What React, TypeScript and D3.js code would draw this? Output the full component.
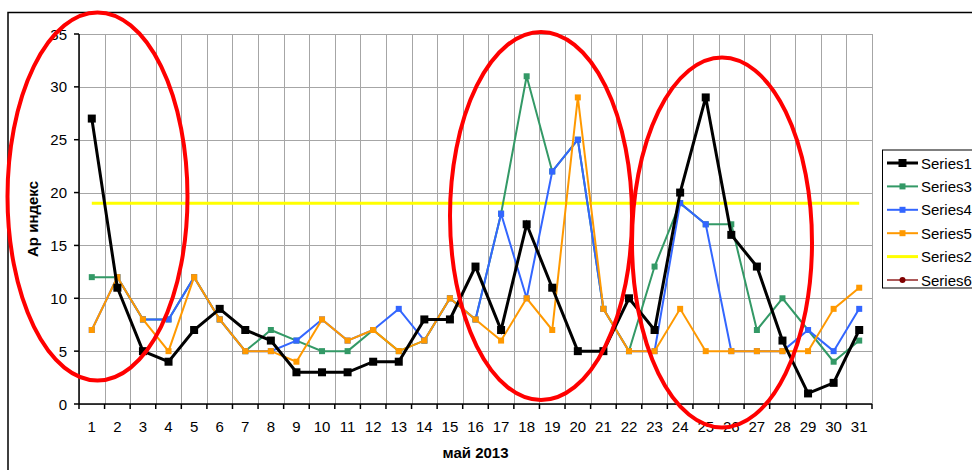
import React from "react";
import * as d3 from "d3";

// Days of May 2013
const days: number[] = d3.range(1, 32);

// Ap index per day
const series1: number[] = [27, 11, 5, 4, 7, 9, 7, 6, 3, 3, 3, 4, 4, 8, 8, 13, 7, 17, 11, 5, 5, 10, 7, 20, 29, 16, 13, 6, 1, 2, 7];
const series3: number[] = [12, 12, 8, 8, 12, 8, 5, 7, 6, 5, 5, 7, 5, 6, 10, 8, 18, 31, 22, 25, 9, 5, 13, 19, 17, 17, 7, 10, 7, 4, 6];
const series4: number[] = [7, 12, 8, 8, 12, 8, 5, 5, 6, 8, 6, 7, 9, 6, 10, 8, 18, 10, 22, 25, 9, 5, 5, 19, 17, 5, 5, 5, 7, 5, 9];
const series5: number[] = [7, 12, 8, 5, 12, 8, 5, 5, 4, 8, 6, 7, 5, 6, 10, 8, 6, 10, 7, 29, 9, 5, 5, 9, 5, 5, 5, 5, 5, 9, 11];
const series2: number[] = days.map(() => 19);
const series6: number[] = [];

const yTicks: number[] = [0, 5, 10, 15, 20, 25, 30, 35];

const xTitle = "май 2013";
const yTitle = "Ар индекс";

type Series = { name: string; values: number[]; color: string; width: number; marker: "square" | "circle" | "none"; size: number };

const legendSeries: Series[] = [
  { name: "Series1", values: series1, color: "#000000", width: 3, marker: "square", size: 8 },
  { name: "Series3", values: series3, color: "#339966", width: 2, marker: "square", size: 6 },
  { name: "Series4", values: series4, color: "#3366ff", width: 2, marker: "square", size: 6 },
  { name: "Series5", values: series5, color: "#ff9900", width: 2, marker: "square", size: 6 },
  { name: "Series2", values: series2, color: "#ffff00", width: 3, marker: "none", size: 0 },
  { name: "Series6", values: series6, color: "#800000", width: 1.3, marker: "circle", size: 6 },
];

// drawing order: reference line underneath, the main series on top
const drawOrder = ["Series2", "Series6", "Series3", "Series4", "Series5", "Series1"];

// hand-drawn highlight ellipses (pixel annotations)
const highlights = [
  { cx: 97.5, cy: 196.5, rx: 90, ry: 184 },
  { cx: 541, cy: 216, rx: 91, ry: 184 },
  { cx: 722, cy: 242.5, rx: 90, ry: 185 },
];

const W = 972;
const H = 470;
const plot = { left: 79, right: 872, top: 34, bottom: 404 };
const font = "'Liberation Sans', Arial, sans-serif";

export default function App() {
  const x = d3.scaleBand<number>().domain(days).range([plot.left, plot.right]).paddingInner(0).paddingOuter(0);
  const bw = x.bandwidth();
  const cx = (d: number) => (x(d) as number) + bw / 2;
  const y = d3.scaleLinear().domain([0, 35]).range([plot.bottom, plot.top]);

  const line = d3
    .line<number>()
    .x((_, i) => cx(days[i]))
    .y((v) => y(v));

  const boundaries = days.map((d) => x(d) as number).concat([plot.right]);

  const renderMarker = (s: Series, px: number, py: number, key: string) => {
    if (s.marker === "square")
      return <rect key={key} x={px - s.size / 2} y={py - s.size / 2} width={s.size} height={s.size} fill={s.color} />;
    if (s.marker === "circle") return <circle key={key} cx={px} cy={py} r={s.size / 2} fill={s.color} />;
    return null;
  };

  const legend = { left: 882.5, top: 150, bottom: 288, row0: 163, step: 23.4 };

  return (
    <svg width={W} height={H} style={{ position: "absolute", left: 0, top: 0, background: "#fff" }} fontFamily={font}>
      {/* chart border */}
      <rect x={8} y={12.5} width={W + 20} height={H + 20} fill="none" stroke="#000" strokeWidth={1.5} />

      {/* grid */}
      <g stroke="#a6a6a6" strokeWidth={1}>
        {yTicks.map((t) => (
          <line key={"h" + t} x1={plot.left} x2={plot.right} y1={Math.round(y(t)) + 0.5} y2={Math.round(y(t)) + 0.5} />
        ))}
        {boundaries.map((b, i) => (
          <line key={"v" + i} x1={Math.round(b) + 0.5} x2={Math.round(b) + 0.5} y1={plot.top} y2={plot.bottom} />
        ))}
      </g>

      {/* axes */}
      <g stroke="#000" strokeWidth={1.5}>
        <line x1={plot.left} x2={plot.left} y1={plot.top} y2={plot.bottom} />
        <line x1={plot.left} x2={plot.right} y1={plot.bottom} y2={plot.bottom} />
        {yTicks.map((t) => (
          <line key={"yt" + t} x1={plot.left - 5} x2={plot.left} y1={y(t)} y2={y(t)} />
        ))}
        {boundaries.map((b, i) => (
          <line key={"xt" + i} x1={b} x2={b} y1={plot.bottom} y2={plot.bottom + 5} />
        ))}
      </g>

      {/* tick labels */}
      <g fontSize={15} fill="#000">
        {yTicks.map((t) => (
          <text key={"yl" + t} x={plot.left - 12} y={y(t) + 5.5} textAnchor="end">
            {t}
          </text>
        ))}
        {days.map((d) => (
          <text key={"xl" + d} x={cx(d)} y={432} textAnchor="middle">
            {d}
          </text>
        ))}
      </g>

      {/* axis titles */}
      <text x={(plot.left + plot.right) / 2} y={458} textAnchor="middle" fontSize={15} fontWeight="bold">
        {xTitle}
      </text>
      <text
        transform={`translate(37.5, ${(plot.top + plot.bottom) / 2}) rotate(-90)`}
        textAnchor="middle"
        fontSize={15}
        fontWeight="bold"
      >
        {yTitle}
      </text>

      {/* series */}
      {drawOrder.map((name) => {
        const s = legendSeries.find((q) => q.name === name)!;
        if (!s.values.length) return null;
        return (
          <g key={name}>
            <path d={line(s.values) || ""} fill="none" stroke={s.color} strokeWidth={s.width} strokeLinejoin="miter" />
            {s.values.map((v, i) => renderMarker(s, cx(days[i]), y(v), name + i))}
          </g>
        );
      })}

      {/* highlights */}
      {highlights.map((e, i) => (
        <ellipse key={"e" + i} cx={e.cx} cy={e.cy} rx={e.rx} ry={e.ry} fill="none" stroke="#ff0000" strokeWidth={4} />
      ))}

      {/* legend */}
      <rect
        x={legend.left}
        y={legend.top}
        width={W - legend.left + 20}
        height={legend.bottom - legend.top}
        fill="#fff"
        stroke="#000"
        strokeWidth={1}
      />
      {legendSeries.map((s, i) => {
        const ly = legend.row0 + i * legend.step;
        return (
          <g key={"lg" + s.name}>
            <line x1={887} x2={918} y1={ly} y2={ly} stroke={s.color} strokeWidth={s.width} />
            {renderMarker(s, 902.5, ly, "lm" + i)}
            <text x={921} y={ly + 5.5} fontSize={15}>
              {s.name}
            </text>
          </g>
        );
      })}
    </svg>
  );
}
